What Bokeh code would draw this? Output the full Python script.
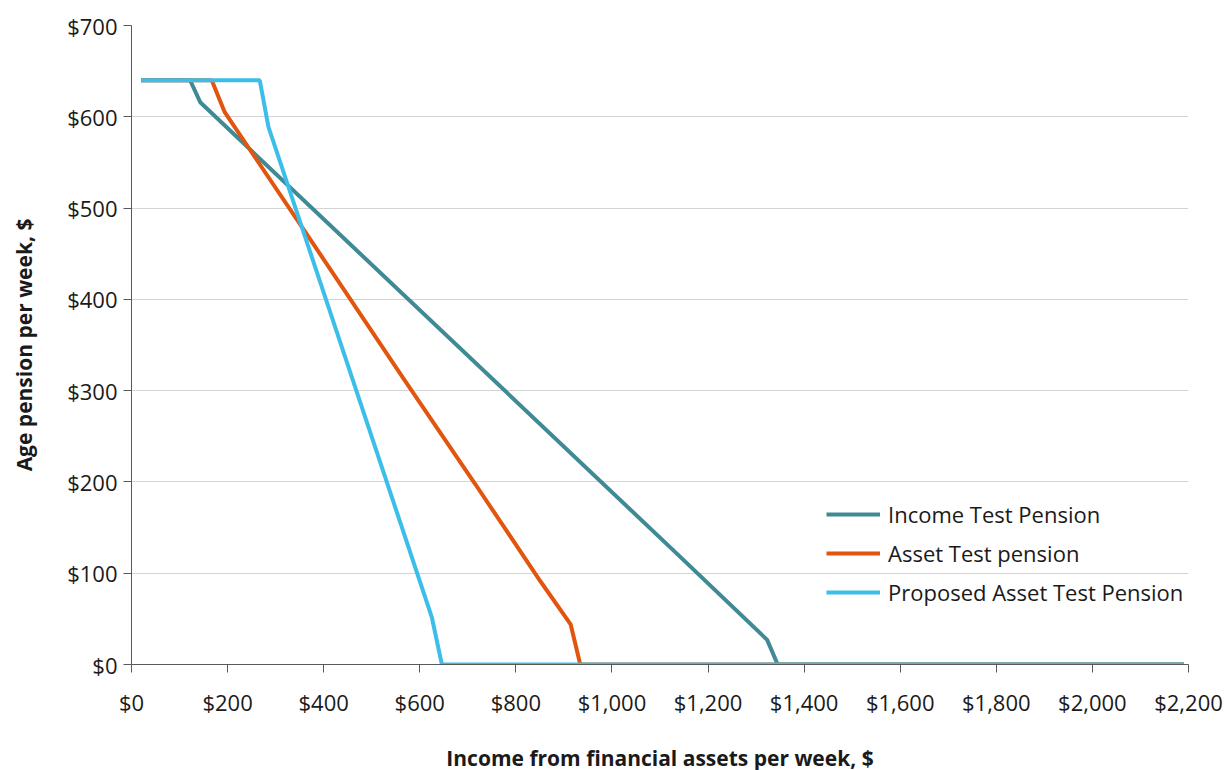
from bokeh.plotting import figure
from bokeh.models import Range1d, FixedTicker, NumeralTickFormatter, Legend, LegendItem
from bokeh.embed import file_html
from bokeh.resources import INLINE

# Data (weekly $)
income_x = [20, 122, 143, 1140, 1323, 1345, 2190]
income_y = [640, 640, 616, 119, 27, 0, 0]

asset_x = [20, 167, 194, 364, 569, 715, 850, 914, 934, 2190]
asset_y = [640, 640, 605, 472, 311, 198, 92, 44, 0, 0]

proposed_x = [20, 267, 285, 625, 646, 2190]
proposed_y = [640, 640, 589, 52, 0, 0]

x_ticks = [0, 200, 400, 600, 800, 1000, 1200, 1400, 1600, 1800, 2000, 2200]
y_ticks = [0, 100, 200, 300, 400, 500, 600, 700]

series_names = ["Income Test Pension", "Asset Test pension", "Proposed Asset Test Pension"]
series_colors = ["#3F8A95", "#E2550E", "#3DBEEA"]

FONT = "Open Sans"

p = figure(frame_width=1057, frame_height=639, output_backend="svg", toolbar_location=None,
           x_range=Range1d(0, 2200), y_range=Range1d(0, 700),
           min_border_left=131, min_border_top=25, min_border_right=43, min_border_bottom=106)
p.outline_line_color = None
p.background_fill_color = "white"

r1 = p.line(income_x, income_y, line_color=series_colors[0], line_width=4)
r2 = p.line(asset_x, asset_y, line_color=series_colors[1], line_width=4)
r3 = p.line(proposed_x, proposed_y, line_color=series_colors[2], line_width=4)

p.xgrid.grid_line_color = None
p.ygrid.grid_line_color = "#D4D4D4"
p.ygrid.grid_line_width = 1
p.ygrid.ticker = FixedTicker(ticks=y_ticks)

p.xaxis.ticker = FixedTicker(ticks=x_ticks)
p.yaxis.ticker = FixedTicker(ticks=y_ticks)
p.xaxis.formatter = NumeralTickFormatter(format="$0,0")
p.yaxis.formatter = NumeralTickFormatter(format="$0,0")

for ax in (p.xaxis, p.yaxis):
    ax.axis_line_color = "#595959"
    ax.major_tick_line_color = "#595959"
    ax.minor_tick_line_color = None
    ax.major_tick_in = 0
    ax.major_tick_out = 8
    ax.major_label_text_font = FONT
    ax.major_label_text_font_size = "22px"
    ax.major_label_text_color = "#1A1A1A"
    ax.axis_label_text_font = FONT
    ax.axis_label_text_font_style = "bold"
    ax.axis_label_text_font_size = "21px"
    ax.axis_label_text_color = "#1A1A1A"

p.xaxis.axis_label = "Income from financial assets per week, $"
p.yaxis.axis_label = "Age pension per week, $"
p.xaxis.major_label_standoff = 14
p.yaxis.major_label_standoff = 6
p.xaxis.axis_label_standoff = 24
p.yaxis.axis_label_standoff = 26

legend = Legend(items=[LegendItem(label=series_names[0], renderers=[r1]),
                       LegendItem(label=series_names[1], renderers=[r2]),
                       LegendItem(label=series_names[2], renderers=[r3])],
                location=(695, 57))
legend.border_line_color = None
legend.background_fill_alpha = 0
legend.padding = 0
legend.margin = 0
legend.glyph_width = 54
legend.glyph_height = 30
legend.label_height = 30
legend.spacing = 9
legend.label_standoff = 8
legend.label_text_font = FONT
legend.label_text_font_size = "22px"
legend.label_text_color = "#1A1A1A"
p.add_layout(legend, "center")

open("out.html", "w").write(file_html(p, INLINE))
